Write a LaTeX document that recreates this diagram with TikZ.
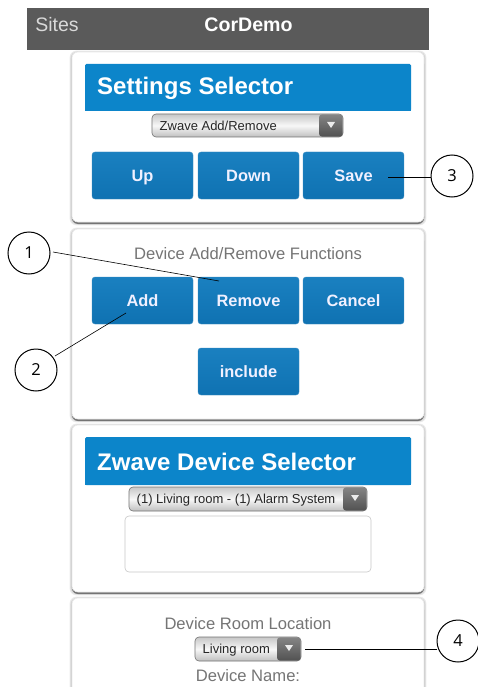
\documentclass[tikz,border=0pt]{standalone}
\usepackage{fontspec}
\setmainfont{Liberation Sans}
\newfontfamily\numfont{Open Sans}
\usetikzlibrary{calc}
\definecolor{barcol}{HTML}{5A5A5A}
\definecolor{headcol}{HTML}{0C85CA}
\definecolor{btntop}{HTML}{1A80C0}
\definecolor{btnbot}{HTML}{0F72B2}
\definecolor{labelgray}{HTML}{757575}
\tikzset{
  x=1pt,y=-1pt,
  cardface/.style={draw=black!8,line width=.6pt,fill=white,rounded corners=6pt},
  cardshade/.style={fill=black,fill opacity=.08,rounded corners=7pt},
  headbar/.style={fill=headcol,rounded corners=1.5pt},
  headtext/.style={anchor=west,inner sep=0pt,text=white,font=\fontsize{24}{25}\selectfont\bfseries},
  btnbox/.style={rounded corners=3pt,top color=btntop,bottom color=btnbot,draw=btnbot!80!white,line width=.4pt},
  btntext/.style={anchor=base,inner sep=0pt,text=white!94!blue,font=\fontsize{16.4}{17}\selectfont\bfseries},
  selbox/.style={rounded corners=4pt,top color=black!22,bottom color=black!25,middle color=black!3,draw=black!55,line width=.6pt},
  seldark/.style={rounded corners=3pt,top color=black!48,bottom color=black!68},
  seltext/.style={anchor=base west,inner sep=0pt,text=black!85,font=\fontsize{13}{14}\selectfont},
  graytext/.style={inner sep=0pt,anchor=base,text=labelgray,font=\fontsize{16.6}{17}\selectfont},
  callout/.style={circle,draw=black,line width=1pt,fill=white,minimum size=42pt,inner sep=0pt,font=\numfont\fontsize{16.5}{18}\selectfont},
  leader/.style={draw=black,line width=.6pt},
}
\newcommand{\cardat}[4]{%
  \foreach \g in {2.4,1.6,0.8}{\path[cardshade] (#1-\g,#2-\g+1) rectangle (#3+\g,#4+\g+1);}
  \path[fill=black,fill opacity=.42,rounded corners=6pt] (#1,#2+6) rectangle (#3,#4+2);
  \path[cardface] (#1,#2) rectangle (#3,#4);
}
\newcommand{\selectat}[6]{% x1,y1,x2,y2,name,text
  \path[selbox] (#1,#2) rectangle (#3,#4);
  \path[seldark] (#3-24,#2+.4) rectangle (#3-.4,#4-.4);
  \path[fill=white!92!black] (#3-16,#2+8) -- (#3-8,#2+8) -- (#3-12,#2+14) -- cycle;
  \node[seltext] (#5) at (#1+7.5,#2+16.5) {#6};
}
\newcommand{\btnat}[5]{% x1,y1,x2,y2,text
  \path[btnbox] (#1,#2) rectangle (#3,#4);
  \node[btntext] at ($(#1,#2+6)!.5!(#3,#4+6)$) {#5};
}
\begin{document}
\begin{tikzpicture}
\useasboundingbox (0,0) rectangle (478,687);
\begin{scope}
\clip (0,0) rectangle (478,687);
% cards
\cardat{72}{52}{424}{222}
\cardat{72}{229}{424}{419}
\cardat{72}{425}{424}{592}
\cardat{72}{598}{424}{720}
% top bar
\path[fill=barcol] (27,8) rectangle (429,50);
\node[inner sep=0pt,text=black!15,font=\fontsize{19.5}{20}\selectfont] (sites) at (57,24.5) {Sites};
\node[inner sep=0pt,text=white,font=\fontsize{19.6}{20}\selectfont\bfseries] (title) at (248.5,24.5) {CorDemo};
% card 1
\path[headbar] (85,64) rectangle (411,111);
\path[fill=headcol] (85,100) rectangle (411,111);
\node[headtext] (h1) at (97,88) {Settings Selector};
\selectat{152}{114}{343}{137}{s1}{Zwave Add/Remove}
\btnat{92}{152}{193}{199}{Up}
\btnat{198}{152}{299}{199}{Down}
\btnat{303}{152}{404}{199}{Save}
% card 2
\node[graytext] (t2) at (248,259.5) {Device Add/Remove Functions};
\btnat{92}{277}{193}{324}{Add}
\btnat{198}{277}{299}{324}{Remove}
\btnat{303}{277}{404}{324}{Cancel}
\btnat{198}{348}{299}{395}{include}
% card 3
\path[headbar] (85,437) rectangle (411,485);
\path[fill=headcol] (85,475) rectangle (411,485);
\node[headtext] (h3) at (97,461.5) {Zwave Device Selector};
\selectat{129}{487}{367}{511}{s3}{(1) Living room - (1) Alarm System}
\path[fill=white,draw=black!22,line width=.6pt,rounded corners=4pt] (125,516) rectangle (371,572);
% card 4
\node[graytext] (t4) at (248,629) {Device Room Location};
\selectat{195}{637}{301}{661}{s4}{Living room}
\node[graytext] (t5) at (248,681) {Device Name:};
% callouts
\node[callout] (c1) at (29,253) {1};
\node[callout] (c2) at (36,370) {2};
\node[callout] (c3) at (452,176) {3};
\node[callout] (c4) at (458,641) {4};
\coordinate (e1) at (219,281);
\coordinate (e2) at (126,313);
\coordinate (e3) at (388,177);
\coordinate (e4) at (305,649);
\coordinate (o1) at (53,252);
\coordinate (o2) at (55,356);
\coordinate (o3) at (431,177);
\coordinate (o4) at (437,649);
\draw[leader] (o1) -- (e1);
\draw[leader] (o2) -- (e2);
\draw[leader] (o3) -- (e3);
\draw[leader] (o4) -- (e4);
\end{scope}
\end{tikzpicture}
\end{document}
